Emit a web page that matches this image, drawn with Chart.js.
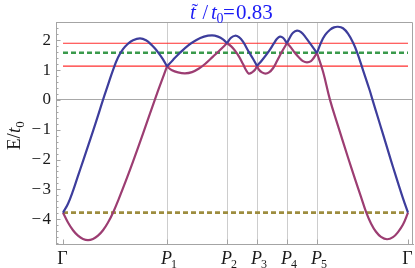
<!DOCTYPE html>
<html><head><meta charset="utf-8">
<script src="https://cdn.jsdelivr.net/npm/chart.js@4"></script>
<style>html,body{margin:0;padding:0;background:#fff;overflow:hidden}</style>
</head><body>
<canvas id="c" width="415" height="268"></canvas>
<script>
// ---- data ----
const kLabels = ['Γ', 'P1', 'P2', 'P3', 'P4', 'P5', 'Γ'];
const kPos = [0, 104, 164, 194, 224, 254, 345];

const upperX = [0,5,10,15,20,25,30,35,40,45,50,55,60,65,70,77,83,88,92,95.6,100,104,
  110,117,125,133,141,149,155,160,164,
  168,172,176,180,185.6,190,194,
  199,205.6,211,214,217,220,224,
  227,230,234,238,243,248,254,
  258,262,267,271,275,280,285,290,294,300,306.6,310,315,320,325,330,335,340,345];
const upperY = [-3.78,-3.48,-3.05,-2.55,-2.05,-1.55,-1.05,-0.53,0.0,0.5,1.0,1.42,1.7,1.88,2.0,2.06,2.0,1.86,1.72,1.57,1.36,1.12,
  1.34,1.58,1.82,2.0,2.12,2.16,2.12,2.03,1.9,
  2.08,2.15,2.1,1.95,1.62,1.38,1.14,
  1.33,1.62,1.9,2.05,2.12,2.08,1.9,
  2.1,2.25,2.32,2.27,2.08,1.85,1.57,
  1.92,2.17,2.35,2.43,2.45,2.4,2.22,1.92,1.6,1.0,0.33,-0.05,-0.6,-1.15,-1.7,-2.25,-2.78,-3.3,-3.78];

const lowerX = [0,5,10,15,20,25,30,35,40,45,50,56,63,70,80,91.8,98,104,
  109,115,122,129,136,143,150,157,164,
  168,172,176,180,183,185.8,189,192,194,
  196,199,202.5,206,210,214,219,224,
  228,232,236,240,244,248,251,254,
  260,267,275,285,292.3,298,303.3,308,313,318,324,330,335,340,345];
const lowerY = [-3.78,-4.11,-4.37,-4.55,-4.66,-4.70,-4.66,-4.55,-4.37,-4.11,-3.78,-3.3,-2.7,-2.07,-1.13,0,0.58,1.12,
  0.99,0.92,0.89,0.93,1.05,1.23,1.45,1.67,1.9,
  1.8,1.65,1.45,1.2,1.0,0.88,0.92,1.01,1.14,
  1.01,0.92,0.88,0.92,1.06,1.3,1.62,1.9,
  1.75,1.57,1.42,1.3,1.26,1.3,1.42,1.57,
  0.95,0.0,-0.87,-1.93,-2.68,-3.25,-3.78,-4.14,-4.42,-4.59,-4.67,-4.60,-4.43,-4.18,-3.78];

const redLevels = [1.90, 1.13];
const greenLevel = 1.58;
const goldLevel = -3.78;
const yTicks = [-4, -3, -2, -1, 0, 1, 2];
const titleValue = '0.83';

// ---- styling ----
const BLUE = '#3d3d9c', PURPLE = '#9c3d72', GREEN = '#3a9a4c', GOLD = '#9d8d3f', RED = '#ff2e2e';
const FRAME = '#a4a4a4', GRID = '#cdcdcd', ZERO = '#a8a8a8';
const SERIF = '"Liberation Serif", "Times New Roman", serif';

function segments(xs, ys) {
  const out = [];
  for (let i = 0; i < kPos.length - 1; i++) {
    const pts = [];
    xs.forEach((x, j) => { if (x >= kPos[i] && x <= kPos[i + 1]) pts.push({x, y: ys[j]}); });
    out.push(pts);
  }
  return out;
}
const datasets = [];
segments(upperX, upperY).forEach(p => datasets.push({data: p, borderColor: BLUE, borderWidth: 2.2, order: 0, tension: 0.4}));
segments(lowerX, lowerY).forEach(p => datasets.push({data: p, borderColor: PURPLE, borderWidth: 2.2, order: 0, tension: 0.4}));
const span = lvl => [{x: kPos[0], y: lvl}, {x: kPos[kPos.length - 1], y: lvl}];
redLevels.forEach(l => datasets.push({data: span(l), borderColor: RED, borderWidth: 1.1, order: 2}));
datasets.push({data: span(greenLevel), borderColor: GREEN, borderWidth: 2.6, borderDash: [5, 3], order: 1});
datasets.push({data: span(goldLevel), borderColor: GOLD, borderWidth: 2.6, borderDash: [5, 3], order: 1});
datasets.forEach(d => { d.pointRadius = 0; d.fill = false; });

const deco = {
  id: 'deco',
  afterDraw(chart) {
    const {ctx, chartArea: a, scales: {x, y}} = chart;
    ctx.save();
    ctx.strokeStyle = FRAME; ctx.lineWidth = 1;
    ctx.beginPath();
    ctx.moveTo(a.left, a.top + 0.5); ctx.lineTo(a.right - 0.5, a.top + 0.5); ctx.lineTo(a.right - 0.5, a.bottom);
    ctx.stroke();
    // y ticks (inside)
    ctx.beginPath();
    for (let t = -48; t <= 26; t += 2) {
      const py = Math.round(y.getPixelForValue(t / 10)) + 0.5;
      const len = (t % 10 === 0) ? 4.5 : 2.5;
      ctx.moveTo(a.left, py); ctx.lineTo(a.left + len, py);
    }
    // x ticks (inside)
    kPos.forEach(v => {
      const px = Math.round(x.getPixelForValue(v)) + 0.5;
      ctx.moveTo(px, a.bottom); ctx.lineTo(px, a.bottom - 4.5);
    });
    ctx.stroke();
    // x labels
    ctx.fillStyle = '#1a1a1a';
    ctx.textBaseline = 'alphabetic';
    kLabels.forEach((lab, i) => {
      const px = x.getPixelForValue(kPos[i]);
      if (lab.length === 1) {
        ctx.font = '18px ' + SERIF; ctx.textAlign = 'center';
        ctx.fillText(lab, px - 0.5, 264);
      } else {
        ctx.textAlign = 'left';
        ctx.font = 'italic 18px ' + SERIF;
        const wP = ctx.measureText(lab[0]).width;
        ctx.fillText(lab[0], px - 6, 264);
        ctx.font = '12px ' + SERIF;
        ctx.fillText(lab.slice(1), px - 6 + wP - 1, 267.5);
      }
    });
    // title
    ctx.fillStyle = '#1c1cf5';
    ctx.textAlign = 'left';
    ctx.font = 'italic 21px ' + SERIF;
    ctx.fillText('t', 190, 19);
    ctx.font = '20px ' + SERIF;
    ctx.fillText('\u02DC', 191.5, 18);
    ctx.fillText('/', 202.5, 19);
    ctx.font = 'italic 21px ' + SERIF;
    ctx.fillText('t', 211, 19);
    ctx.font = '14px ' + SERIF;
    ctx.fillText('0', 216.5, 22.5);
    ctx.font = '21px ' + SERIF;
    ctx.fillText('=', 223, 19);
    ctx.fillText(titleValue, 236, 19);
    // y axis title
    ctx.fillStyle = '#1a1a1a';
    ctx.translate(19.5, 150);
    ctx.rotate(-Math.PI / 2);
    ctx.font = '19px ' + SERIF;
    ctx.fillText('E/', 0, 0);
    let w = ctx.measureText('E/').width;
    ctx.font = 'italic 19px ' + SERIF;
    ctx.fillText('t', w, 0);
    w += ctx.measureText('t').width;
    ctx.font = '13px ' + SERIF;
    ctx.fillText('0', w, 4);
    ctx.restore();
  }
};

new Chart(document.getElementById('c'), {
  type: 'line',
  data: {datasets},
  options: {
    responsive: false, animation: false, devicePixelRatio: 1,
    layout: {padding: {top: 22, right: 2, left: 0, bottom: 0}},
    plugins: {legend: {display: false}, title: {display: false}, tooltip: {enabled: false}},
    scales: {
      x: {
        type: 'linear', min: -7, max: 350,
        afterBuildTicks: s => { s.ticks = kPos.map(v => ({value: v})); },
        afterFit: s => { s.height = 24; },
        ticks: {display: false},
        grid: {drawTicks: false, color: c => (c.index === 0 || c.index === kPos.length - 1) ? 'rgba(0,0,0,0)' : GRID, lineWidth: 1},
        border: {color: FRAME, width: 1}
      },
      y: {
        type: 'linear', min: -4.83, max: 2.61,
        afterBuildTicks: s => { s.ticks = yTicks.map(v => ({value: v})); },
        afterFit: s => { s.width = 56; },
        ticks: {
          padding: 5, color: '#1a1a1a', font: {family: SERIF, size: 17},
          callback: v => v < 0 ? '\u2212\u200A' + Math.abs(v) : String(v)
        },
        grid: {drawTicks: false, color: c => (c.tick && c.tick.value === 0) ? ZERO : 'rgba(0,0,0,0)', lineWidth: 1},
        border: {color: FRAME, width: 1}
      }
    }
  },
  plugins: [deco]
});
</script>
</body></html>
